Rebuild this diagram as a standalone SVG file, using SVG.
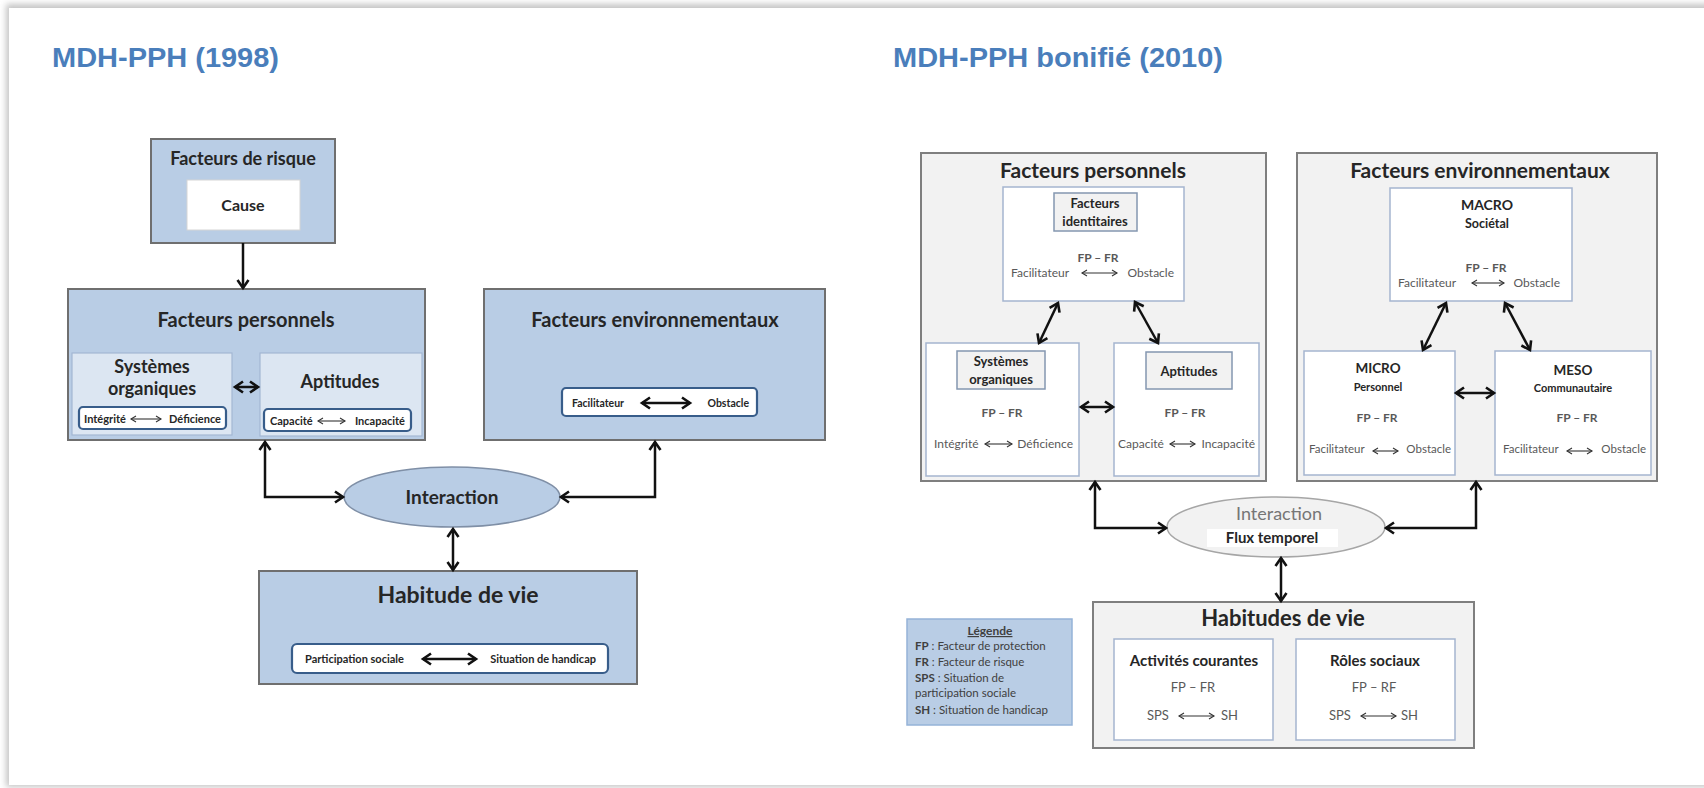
<svg xmlns="http://www.w3.org/2000/svg" width="1704" height="788" viewBox="0 0 1704 788">
<defs>
<style>
.t{font-family:Lato,"Liberation Sans",sans-serif;fill:#262626}
.b{font-weight:bold}
.m{text-anchor:middle}
.e{text-anchor:end}
.g{fill:#595959}
.ttl{font-family:"Liberation Sans",Arial,sans-serif;font-weight:bold;font-size:27px;fill:#4a7ebb}
.bx{fill:#b9cde5;stroke:#6f6f6f;stroke-width:2}
.sb{fill:#dce6f2;stroke:#a3b7d3;stroke-width:1.2}
.rw{fill:#fff;stroke:#385d8a;stroke-width:2.2}
.gb{fill:#f2f2f2;stroke:#7f7f7f;stroke-width:2}
.wb{fill:#fff;stroke:#a5b5cf;stroke-width:1.5}
.lb{fill:#f2f2f2;stroke:#8497b0;stroke-width:1.5}
.c{fill:none;stroke:#111;stroke-width:2.5}
.cs{fill:none;stroke:#333;stroke-width:1.1}
</style>
<marker id="ah" markerUnits="userSpaceOnUse" markerWidth="16" markerHeight="16" refX="12" refY="8" orient="auto-start-reverse">
<path d="M4,2.5 L12,8 L4,13.5" fill="none" stroke="#111" stroke-width="2.6"/>
</marker>
<marker id="as" markerUnits="userSpaceOnUse" markerWidth="10" markerHeight="10" refX="7" refY="5" orient="auto-start-reverse">
<path d="M2,2 L7,5 L2,8" fill="none" stroke="#333" stroke-width="1.1"/>
</marker>
<filter id="sh" x="-5%" y="-5%" width="110%" height="110%"><feGaussianBlur stdDeviation="3"/></filter>
</defs>

<rect width="1704" height="788" fill="#fff"/>
<rect x="6" y="4" width="1720" height="783" fill="#c4c4c4" filter="url(#sh)"/>
<rect x="9" y="8" width="1700" height="777" fill="#fff"/>

<text class="ttl" x="52" y="67" textLength="227" lengthAdjust="spacingAndGlyphs">MDH-PPH (1998)</text>
<text class="ttl" x="893" y="67" textLength="330" lengthAdjust="spacingAndGlyphs">MDH-PPH bonifié (2010)</text>

<!-- Left diagram -->
<g id="risque">
<rect class="bx" x="151" y="139" width="184" height="104"/>
<text class="t b m" x="243" y="165" font-size="18">Facteurs de risque</text>
<rect x="187" y="180" width="113" height="50" fill="#fff" stroke="#d5d5d5" stroke-width="1"/>
<text class="t b m" x="243" y="211" font-size="16">Cause</text>
</g>

<g id="personnels">
<rect class="bx" x="68" y="289" width="357" height="151"/>
<text class="t b m" x="246" y="327" font-size="20">Facteurs personnels</text>
<rect class="sb" x="72" y="353" width="160" height="82"/>
<text class="t b m" x="152" y="373" font-size="18">Systèmes</text>
<text class="t b m" x="152" y="395" font-size="18">organiques</text>
<rect class="rw" x="79" y="407" width="147" height="22" rx="4"/>
<text class="t b" x="84" y="423" font-size="11">Intégrité</text>
<text class="t b e" x="221" y="423" font-size="11">Déficience</text>
<rect class="sb" x="260" y="353" width="162" height="83"/>
<text class="t b m" x="340" y="388" font-size="18">Aptitudes</text>
<rect class="rw" x="264" y="409" width="147" height="22" rx="4"/>
<text class="t b" x="270" y="425" font-size="11">Capacité</text>
<text class="t b e" x="405" y="425" font-size="11">Incapacité</text>
</g>

<g id="environnementaux">
<rect class="bx" x="484" y="289" width="341" height="151"/>
<text class="t b m" x="655" y="327" font-size="20">Facteurs environnementaux</text>
<rect class="rw" x="562" y="388" width="195" height="28" rx="4"/>
<text class="t b" x="572" y="407" font-size="10.5">Facilitateur</text>
<text class="t b e" x="749" y="407" font-size="10.5">Obstacle</text>
</g>

<g id="interaction">
<ellipse cx="452" cy="497" rx="108" ry="30" fill="#b9cde5" stroke="#7f8fa6" stroke-width="1.5"/>
<text class="t b m" x="452" y="504" font-size="19">Interaction</text>
</g>

<g id="habitude">
<rect class="bx" x="259" y="571" width="378" height="113"/>
<text class="t b m" x="458" y="603" font-size="23">Habitude de vie</text>
<rect class="rw" x="292" y="644" width="316" height="29" rx="5"/>
<text class="t b" x="305" y="663" font-size="11">Participation sociale</text>
<text class="t b e" x="596" y="663" font-size="11">Situation de handicap</text>
</g>

<!-- Right diagram -->
<g id="fp2">
<rect class="gb" x="921" y="153" width="345" height="328"/>
<text class="t b m" x="1093" y="178" font-size="21">Facteurs personnels</text>
</g>
<g id="identitaires">
<rect class="wb" x="1003" y="187" width="181" height="114"/>
<rect class="lb" x="1054" y="193" width="83" height="38"/>
<text class="t b m" x="1095" y="208" font-size="13">Facteurs</text>
<text class="t b m" x="1095" y="226" font-size="13">identitaires</text>
<text class="t b m g" x="1098" y="262" font-size="12">FP – FR</text>
<text class="t g" x="1011" y="277" font-size="12">Facilitateur</text>
<text class="t g e" x="1174" y="277" font-size="12">Obstacle</text>
</g>
<g id="systemes2">
<rect class="wb" x="926" y="343" width="153" height="133"/>
<rect class="lb" x="957" y="351" width="88" height="38"/>
<text class="t b m" x="1001" y="366" font-size="13">Systèmes</text>
<text class="t b m" x="1001" y="384" font-size="13">organiques</text>
<text class="t b m g" x="1002" y="417" font-size="12">FP – FR</text>
<text class="t g" x="934" y="448" font-size="12">Intégrité</text>
<text class="t g e" x="1073" y="448" font-size="12">Déficience</text>
</g>
<g id="aptitudes2">
<rect class="wb" x="1114" y="343" width="145" height="133"/>
<rect class="lb" x="1146" y="352" width="86" height="37"/>
<text class="t b m" x="1189" y="376" font-size="13">Aptitudes</text>
<text class="t b m g" x="1185" y="417" font-size="12">FP – FR</text>
<text class="t g" x="1118" y="448" font-size="12">Capacité</text>
<text class="t g e" x="1255" y="448" font-size="12">Incapacité</text>
</g>

<g id="fe2">
<rect class="gb" x="1297" y="153" width="360" height="328"/>
<text class="t b m" x="1480" y="178" font-size="21">Facteurs environnementaux</text>
</g>
<g id="macro">
<rect class="wb" x="1390" y="188" width="182" height="113"/>
<text class="t b m" x="1487" y="210" font-size="14">MACRO</text>
<text class="t b m" x="1487" y="228" font-size="12.5">Sociétal</text>
<text class="t b m g" x="1486" y="272" font-size="12">FP – FR</text>
<text class="t g" x="1398" y="287" font-size="12">Facilitateur</text>
<text class="t g e" x="1560" y="287" font-size="12">Obstacle</text>
</g>
<g id="micro">
<rect class="wb" x="1304" y="351" width="151" height="124"/>
<text class="t b m" x="1378" y="373" font-size="13.5">MICRO</text>
<text class="t b m" x="1378" y="391" font-size="11">Personnel</text>
<text class="t b m g" x="1377" y="422" font-size="12">FP – FR</text>
<text class="t g" x="1309" y="453" font-size="11.5">Facilitateur</text>
<text class="t g e" x="1451" y="453" font-size="11.5">Obstacle</text>
</g>
<g id="meso">
<rect class="wb" x="1495" y="351" width="156" height="124"/>
<text class="t b m" x="1573" y="375" font-size="13.5">MESO</text>
<text class="t b m" x="1573" y="392" font-size="11">Communautaire</text>
<text class="t b m g" x="1577" y="422" font-size="12">FP – FR</text>
<text class="t g" x="1503" y="453" font-size="11.5">Facilitateur</text>
<text class="t g e" x="1646" y="453" font-size="11.5">Obstacle</text>
</g>

<g id="interaction2">
<ellipse cx="1276" cy="527" rx="109" ry="30" fill="#f2f2f2" stroke="#a6a6a6" stroke-width="1.5"/>
<text class="t m" x="1279" y="520" font-size="18" style="fill:#767676">Interaction</text>
<rect x="1207" y="529" width="131" height="18" fill="#fff"/>
<text class="t b m" x="1272" y="543" font-size="15">Flux temporel</text>
</g>

<g id="habitudes2">
<rect class="gb" x="1093" y="602" width="381" height="146"/>
<text class="t b m" x="1283" y="626" font-size="22">Habitudes de vie</text>
<rect class="wb" x="1114" y="639" width="159" height="101"/>
<text class="t b m" x="1194" y="666" font-size="15">Activités courantes</text>
<text class="t m g" x="1193" y="692" font-size="13">FP – FR</text>
<text class="t g" x="1147" y="720" font-size="13">SPS</text>
<text class="t g" x="1221" y="720" font-size="13">SH</text>
<rect class="wb" x="1296" y="639" width="159" height="101"/>
<text class="t b m" x="1375" y="666" font-size="15">Rôles sociaux</text>
<text class="t m g" x="1374" y="692" font-size="13">FP – RF</text>
<text class="t g" x="1329" y="720" font-size="13">SPS</text>
<text class="t g" x="1401" y="720" font-size="13">SH</text>
</g>

<g id="legende">
<rect x="907" y="619" width="165" height="106" fill="#b9cde5" stroke="#95b3d7" stroke-width="1.5"/>
<text class="t b m" x="990" y="635" font-size="12" text-decoration="underline" style="fill:#404040">Légende</text>
<text class="t" x="915" y="650" font-size="11.5" style="fill:#404040"><tspan font-weight="bold">FP</tspan> : Facteur de protection</text>
<text class="t" x="915" y="666" font-size="11.5" style="fill:#404040"><tspan font-weight="bold">FR</tspan> : Facteur de risque</text>
<text class="t" x="915" y="682" font-size="11.5" style="fill:#404040"><tspan font-weight="bold">SPS</tspan> : Situation de</text>
<text class="t" x="915" y="697" font-size="11.5" style="fill:#404040">participation sociale</text>
<text class="t" x="915" y="714" font-size="11.5" style="fill:#404040"><tspan font-weight="bold">SH</tspan> : Situation de handicap</text>
</g>

<g id="connectors">
<!-- left -->
<path class="c" d="M243,243 V288" marker-end="url(#ah)"/>
<path class="c" d="M265,442 V497 H343" marker-start="url(#ah)" marker-end="url(#ah)"/>
<path class="c" d="M655,442 V497 H561" marker-start="url(#ah)" marker-end="url(#ah)"/>
<path class="c" d="M453,529 V570" marker-start="url(#ah)" marker-end="url(#ah)"/>
<path class="c" d="M235,387 H258" marker-start="url(#ah)" marker-end="url(#ah)"/>
<path class="c" d="M642,403 H690" marker-start="url(#ah)" marker-end="url(#ah)"/>
<path class="c" d="M423,659 H476" marker-start="url(#ah)" marker-end="url(#ah)"/>
<path class="cs" d="M131,419 H161" marker-start="url(#as)" marker-end="url(#as)"/>
<path class="cs" d="M318,421 H345" marker-start="url(#as)" marker-end="url(#as)"/>
<!-- right -->
<path class="c" d="M1058,303 L1039,343" marker-start="url(#ah)" marker-end="url(#ah)"/>
<path class="c" d="M1135,302 L1158,343" marker-start="url(#ah)" marker-end="url(#ah)"/>
<path class="c" d="M1081,407 H1113" marker-start="url(#ah)" marker-end="url(#ah)"/>
<path class="c" d="M1446,303 L1423,350" marker-start="url(#ah)" marker-end="url(#ah)"/>
<path class="c" d="M1505,303 L1530,350" marker-start="url(#ah)" marker-end="url(#ah)"/>
<path class="c" d="M1456,393 H1494" marker-start="url(#ah)" marker-end="url(#ah)"/>
<path class="c" d="M1095,482 V528 H1166" marker-start="url(#ah)" marker-end="url(#ah)"/>
<path class="c" d="M1476,482 V528 H1386" marker-start="url(#ah)" marker-end="url(#ah)"/>
<path class="c" d="M1281,558 V601" marker-start="url(#ah)" marker-end="url(#ah)"/>
<path class="cs" d="M1082,273 H1117" marker-start="url(#as)" marker-end="url(#as)"/>
<path class="cs" d="M985,444 H1012" marker-start="url(#as)" marker-end="url(#as)"/>
<path class="cs" d="M1170,444 H1195" marker-start="url(#as)" marker-end="url(#as)"/>
<path class="cs" d="M1472,283 H1504" marker-start="url(#as)" marker-end="url(#as)"/>
<path class="cs" d="M1373,451 H1398" marker-start="url(#as)" marker-end="url(#as)"/>
<path class="cs" d="M1567,451 H1592" marker-start="url(#as)" marker-end="url(#as)"/>
<path class="cs" d="M1179,716 H1214" marker-start="url(#as)" marker-end="url(#as)"/>
<path class="cs" d="M1361,716 H1396" marker-start="url(#as)" marker-end="url(#as)"/>
</g>
</svg>
